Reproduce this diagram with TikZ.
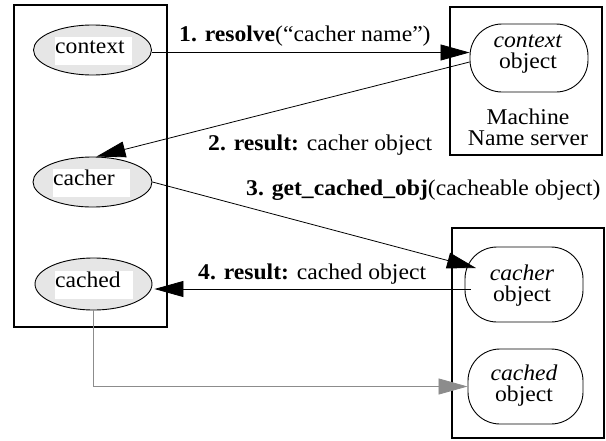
\documentclass[tikz,border=0pt]{standalone}
\usepackage{fontspec}
\setmainfont{Liberation Serif}[FakeStretch=1.05]
\usetikzlibrary{arrows.meta,calc,shapes.geometric}
\definecolor{ellfill}{HTML}{E6E6E6}
\definecolor{linkgray}{HTML}{8C8C8C}

\begin{document}
\begin{tikzpicture}[x=1pt,y=-1pt,
  every node/.style={font=\fontsize{22.5}{21}\selectfont},
  frame/.style={draw=black,line width=1.2pt},
  ell/.style={draw=black,line width=0.9pt,fill=ellfill,ellipse,inner sep=0pt},
  ellname/.style={fill=white,inner sep=0pt,text height=16pt,text depth=12pt,anchor=base west},
  stad/.style={draw=black,line width=0.9pt,rectangle,rounded corners=32pt,inner sep=0pt},
  plain/.style={inner sep=0pt,align=center},
  msg/.style={inner sep=0pt,anchor=base west},
  arr/.style={draw=black,line width=0.8pt,-{Triangle[length=29pt,width=16pt]}},
  garr/.style={draw=linkgray,line width=0.8pt,-{Triangle[length=29pt,width=16pt]}}
]
\useasboundingbox (0,0) rectangle (606,440);

% client side and the two servers
\draw[frame] (14,5) rectangle (167,327);
\draw[frame] (450,7) rectangle (602,155);
\draw[frame] (452,228) rectangle (604,438);

% client-side objects
\node[ell,minimum width=118pt,minimum height=50pt] (ctx) at (92.5,50) {};
\node[ellname] (ctxname) at (55,53) {\makebox[77pt][l]{context}};
\node[ell,minimum width=119pt,minimum height=50pt] (cacher) at (92.5,182) {};
\node[ellname] (cachername) at (53,185) {\makebox[77pt][l]{cacher}};
\node[ell,minimum width=117pt,minimum height=52pt] (cached) at (93.5,284) {};
\node[ellname] (cachedname) at (55,287) {\makebox[78pt][l]{cached}};

% server-side objects
\node[stad,minimum width=118pt,minimum height=68pt] (ctxobj) at (529,58) {};
\node[plain] (ctxobjtxt) at (528,54.5) {\textit{context}\\object};
\node[plain] (servertxt) at (528,127) {Machine\\Name server};
\node[stad,minimum width=118pt,minimum height=75pt] (cacherobj) at (524,284.5) {};
\node[plain] (cacherobjtxt) at (522,285.5) {\textit{cacher}\\object};
\node[stad,minimum width=115pt,minimum height=75pt] (cachedobj) at (525.5,386.5) {};
\node[plain] (cachedobjtxt) at (524,385.5) {\textit{cached}\\object};

% messages
\draw[arr] ($(ctx.east)+(0,2.5)$) -- ($(ctx.east -| ctxobj.west)+(0,2.5)$);
\node[msg] (m1) at (179,41) {\textbf{1. resolve}(“cacher name”)};

\draw[arr] ($(ctxobj.west)+(0,4)$) -- ($(cacher.north)+(4,0)$);
\node[msg] (m2) at (208,150) {\textbf{2. result:} cacher object};

\draw[arr] (cacher.east) -- ($(cacherobj.center)+(-48,-16.5)$);
\node[msg] (m3) at (246,195) {\textbf{3. get\_cached\_obj}(cacheable object)};

\draw[arr] ($(cacherobj.west)+(6,4.5)$) -- ($(cached.east)+(2,5)$);
\node[msg] (m4) at (198,279) {\textbf{4. result:} cached object};

\draw[garr] (cached.south) |- (cachedobj.west);
\end{tikzpicture}
\end{document}
